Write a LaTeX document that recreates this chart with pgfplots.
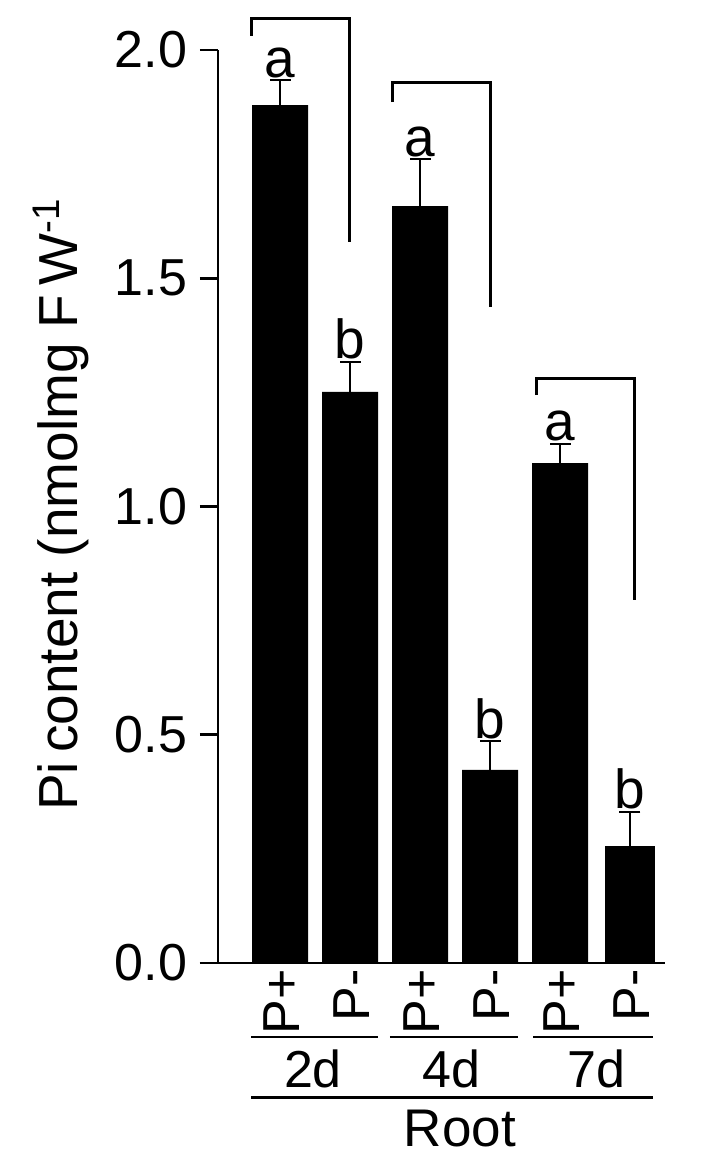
\documentclass[border=0pt]{standalone}
\usepackage{fontspec}
\setmainfont{Liberation Sans}
\usepackage{pgfplots}
\pgfplotsset{compat=1.18}

\newcommand\fs[1]{\fontsize{#1}{#1}\selectfont}

\begin{document}
\begin{tikzpicture}
\begin{axis}[
    scale only axis,
    width=223.5pt, height=456.5pt,
    xmin=0.114, xmax=6.5,
    ymin=0, ymax=2,
    clip=false,
    axis x line*=bottom, axis y line*=left,
    axis line style={line width=1.35pt, black},
    x axis line style={shorten <=-9pt},
    ytick={0,0.5,1,1.5,2},
    tick align=outside,
    y tick style={line width=1.35pt, black},
    major tick length=9pt,
    x tick style={draw=none},
    yticklabel style={font=\fs{26pt}, xshift=-3pt, /pgf/number format/.cd, fixed, fixed zerofill, precision=1, assume math mode=true},
    xtick={1,2,3,4,5,6},
    xticklabels={P+,P-,P+,P-,P+,P-},
    xticklabel style={font=\fs{26pt}, rotate=90, anchor=east, inner sep=0pt, xshift=6pt, yshift=-1pt},
    ylabel={Pi\,content (nmolmg F\,W\textsuperscript{-1}},
    every axis y label/.style={at={([xshift=-70pt, yshift=1pt]axis description cs:0,0.5)}, rotate=90, anchor=base, font=\fs{27.5pt}},
]

% bars with upper error bars
\addplot[ybar, bar shift=0pt, bar width=0.8, fill=black, draw=none,
    error bars/.cd, y dir=plus, y explicit,
    error bar style={draw=black, line width=1.1pt}]
coordinates {
    (1,1.879) +- (0,0.055)
    (2,1.251) +- (0,0.066)
    (3,1.658) +- (0,0.103)
    (4,0.423) +- (0,0.063)
    (5,1.095) +- (0,0.042)
};
\addplot[ybar, bar shift=0pt, bar width=0.714, fill=black, draw=none,
    error bars/.cd, y dir=plus, y explicit,
    error bar style={draw=black, line width=1.1pt}]
coordinates {
    (6,0.256) +- (0,0.075)
};

% error bar caps with the significance letters above them
\addplot[only marks, mark=-, mark size=5.25pt, mark options={draw=black, line width=1.1pt},
    nodes near coords, point meta=explicit symbolic,
    nodes near coords style={anchor=base, yshift=1.5pt, inner sep=0pt, font=\fs{27.5pt}, black}]
coordinates {
    (1,1.934) [a]
    (2,1.317) [b]
    (3,1.761) [a]
    (4,0.486) [b]
    (5,1.137) [a]
    (6,0.331) [b]
};

% comparison brackets
\draw[line width=1.5pt] (axis cs:0.586,2.031) |- (axis cs:1.986,2.070) -- (axis cs:1.986,1.579);
\draw[line width=1.5pt] (axis cs:2.614,1.886) |- (axis cs:4.0,1.928) -- (axis cs:4.0,1.437);
\draw[line width=1.5pt] (axis cs:4.671,1.244) |- (axis cs:6.071,1.281) -- (axis cs:6.071,0.795);

% group lines and labels below the axis
\draw[line width=1.35pt] (axis cs:0.586,-0.162) -- (axis cs:2.4,-0.162);
\draw[line width=1.35pt] (axis cs:2.571,-0.162) -- (axis cs:4.4,-0.162);
\draw[line width=1.35pt] (axis cs:4.621,-0.162) -- (axis cs:6.329,-0.162);
\node[anchor=base, inner sep=0pt, font=\fs{26pt}] at (axis cs:1.471,-0.272) {2d};
\node[anchor=base, inner sep=0pt, font=\fs{26pt}] at (axis cs:3.443,-0.272) {4d};
\node[anchor=base, inner sep=0pt, font=\fs{26pt}] at (axis cs:5.52,-0.272) {7d};
\draw[line width=1.35pt] (axis cs:0.586,-0.294) -- (axis cs:6.329,-0.294);
\node[anchor=base, inner sep=0pt, font=\fs{26.5pt}] at (axis cs:3.571,-0.403) {Root};

\coordinate (O) at (axis cs:0.114,0);
\end{axis}
\pgfresetboundingbox
\path ([shift={(-109pt,-98.5pt)}]O) rectangle ([shift={(251.5pt,481.5pt)}]O);
\end{tikzpicture}
\end{document}
